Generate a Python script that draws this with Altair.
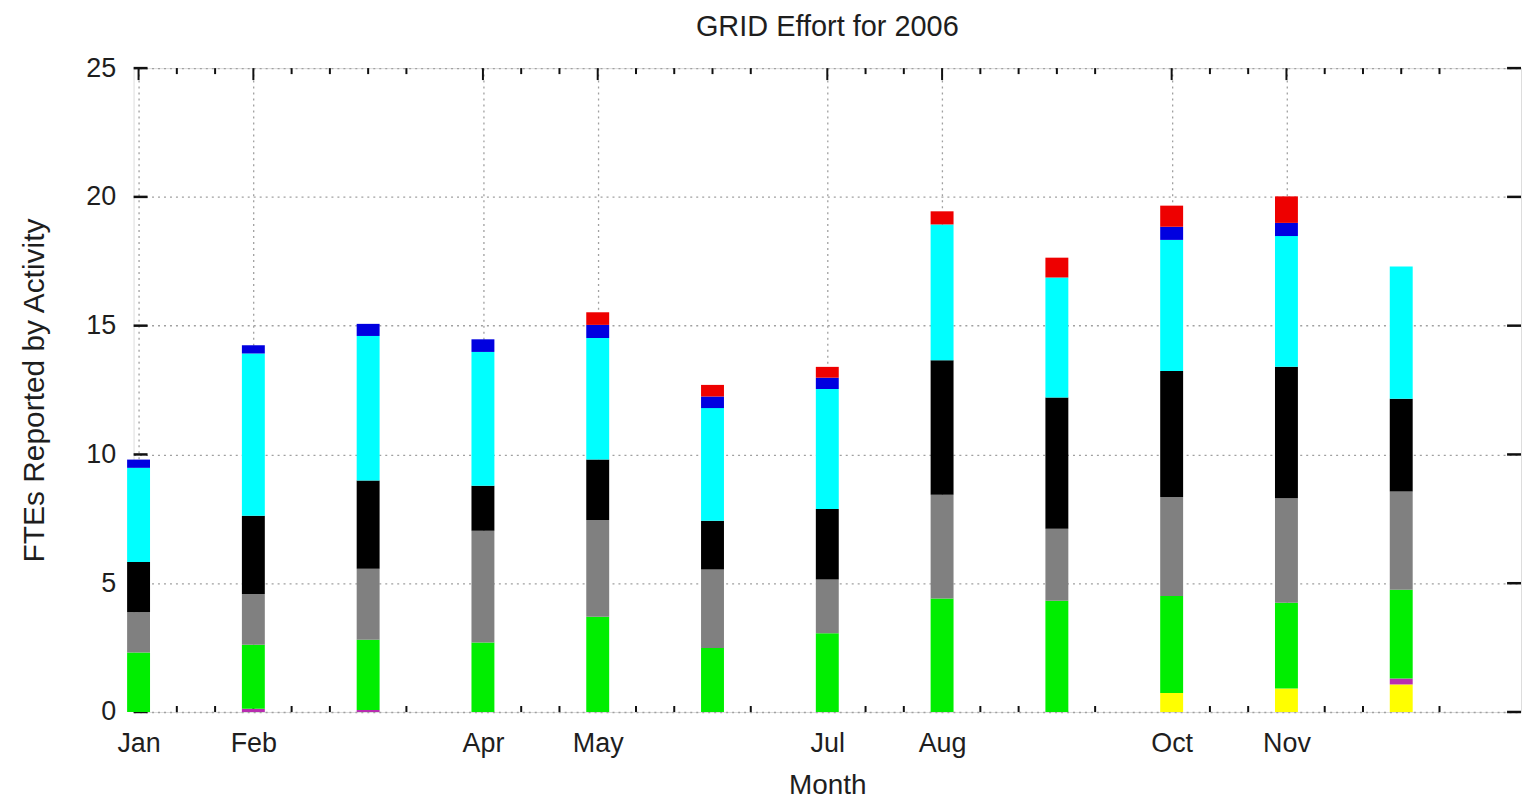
import altair as alt
import pandas as pd

# ---- data ----
months = ["Jan", "Feb", "Mar", "Apr", "May", "Jun", "Jul", "Aug", "Sep", "Oct", "Nov", "Dec"]
month_pos = [0, 1, 2, 3, 4, 5, 6, 7, 8, 9, 10, 11]

series_names = ["s1", "s2", "s3", "s4", "s5", "s6", "s7", "s8"]
series_colors = ["#ffff00", "#b82cb0", "#00ee00", "#808080", "#000000", "#00ffff", "#0000e0", "#ee0000"]

yellow = [0, 0, 0, 0, 0, 0, 0, 0, 0, 0.74, 0.91, 1.07]
magenta = [0, 0.13, 0.08, 0, 0, 0, 0, 0, 0, 0, 0, 0.23]
green = [2.31, 2.48, 2.72, 2.70, 3.70, 2.48, 3.06, 4.41, 4.32, 3.76, 3.33, 3.45]
gray = [1.56, 1.97, 2.76, 4.34, 3.75, 3.05, 2.08, 4.02, 2.79, 3.85, 4.06, 3.81]
black = [1.95, 3.04, 3.43, 1.74, 2.35, 1.90, 2.74, 5.23, 5.10, 4.89, 5.10, 3.60]
cyan = [3.66, 6.30, 5.61, 5.20, 4.72, 4.37, 4.66, 5.27, 4.66, 5.09, 5.08, 5.14]
blue = [0.32, 0.32, 0.47, 0.49, 0.51, 0.45, 0.44, 0, 0, 0.51, 0.51, 0]
red = [0, 0, 0, 0, 0.49, 0.45, 0.42, 0.51, 0.77, 0.82, 1.03, 0]

# x-axis tick positions (in months from Jan 1) and labels
major_ticks = [0, 1, 3, 4, 6, 7, 9, 10]
major_labels = ["Jan", "Feb", "Apr", "May", "Jul", "Aug", "Oct", "Nov"]
minor_ticks = [1/3, 2/3, 4/3, 5/3, 2, 7/3, 10/3, 11/3, 13/3, 14/3, 5, 16/3,
               19/3, 20/3, 22/3, 23/3, 8, 25/3, 28/3, 29/3, 31/3, 32/3, 11, 34/3]
y_ticks = [0, 5, 10, 15, 20, 25]

# ---- build tables ----
all_series = [yellow, magenta, green, gray, black, cyan, blue, red]
rows = []
for k, (name, vals) in enumerate(zip(series_names, all_series)):
    for m, mp, v in zip(months, month_pos, vals):
        rows.append({"month": m, "m": mp, "series": name, "k": k, "value": v})
df = pd.DataFrame(rows)

maj_df = pd.DataFrame({"m": major_ticks})
min_df = pd.DataFrame({"m": minor_ticks})
yt_df = pd.DataFrame({"value": y_ticks})

W, H = 1392, 646
FONT = "Liberation Sans"
TXT = "#1e1e1e"

label_expr = " : ".join(
    [f"datum.value == {p} ? '{l}'" for p, l in zip(major_ticks, major_labels)]
) + " : ''"

x_scale = alt.Scale(domain=[0, 12], nice=False, zero=False)
y_scale = alt.Scale(domain=[0, 25], nice=False)

x_axis = alt.Axis(
    values=major_ticks, labelExpr=label_expr, title="Month",
    ticks=False, domain=False, grid=True,
    gridDash=[2, 4], gridColor="#a0a0a0", gridWidth=1.3,
    labelFontSize=27, titleFontSize=28, labelFont=FONT, titleFont=FONT,
    labelColor=TXT, titleColor=TXT, titleFontWeight="normal",
    labelPadding=19, titlePadding=15, labelFlush=False,
)
y_axis = alt.Axis(
    values=y_ticks, title="FTEs Reported by Activity",
    ticks=False, domain=False, grid=True,
    gridDash=[2, 4], gridColor="#a0a0a0", gridWidth=1.3,
    labelFontSize=27, titleFontSize=30, labelFont=FONT, titleFont=FONT,
    labelColor=TXT, titleColor=TXT, titleFontWeight="normal",
    labelPadding=18, titlePadding=36,
)

x_enc = alt.X("m:Q", scale=x_scale, axis=x_axis)

bars = alt.Chart(df).mark_bar(size=23).encode(
    x=x_enc,
    y=alt.Y("sum(value):Q", scale=y_scale, axis=y_axis, stack="zero"),
    color=alt.Color("series:N", scale=alt.Scale(domain=series_names, range=series_colors), legend=None),
    order=alt.Order("k:Q", sort="ascending"),
)

tick_color = "#111111"
maj_bottom = alt.Chart(maj_df).mark_rule(color=tick_color, strokeWidth=2).encode(
    x=x_enc, y=alt.value(H), y2=alt.value(H - 12))
maj_top = alt.Chart(maj_df).mark_rule(color=tick_color, strokeWidth=2).encode(
    x=x_enc, y=alt.value(0), y2=alt.value(12))
min_bottom = alt.Chart(min_df).mark_rule(color=tick_color, strokeWidth=2).encode(
    x=x_enc, y=alt.value(H), y2=alt.value(H - 6))
min_top = alt.Chart(min_df).mark_rule(color=tick_color, strokeWidth=2).encode(
    x=x_enc, y=alt.value(0), y2=alt.value(6))
y_left = alt.Chart(yt_df).mark_rule(color=tick_color, strokeWidth=2.5).encode(
    y=alt.Y("value:Q", scale=y_scale, axis=y_axis), x=alt.value(0), x2=alt.value(14))
y_right = alt.Chart(yt_df).mark_rule(color=tick_color, strokeWidth=2.5).encode(
    y=alt.Y("value:Q", scale=y_scale, axis=y_axis), x=alt.value(W), x2=alt.value(W - 14))

chart = alt.layer(
    maj_bottom, maj_top, min_bottom, min_top, y_left, y_right, bars
).properties(
    width=W, height=H,
    padding={"left": 11, "top": 4, "right": 0, "bottom": 2},
    title=alt.TitleParams(
        "GRID Effort for 2006", fontSize=29, font=FONT, fontWeight="normal",
        color=TXT, anchor="middle", offset=12,
    ),
).configure_view(
    stroke="#111111", strokeWidth=2.8
).configure(background="white")

chart.save("out.html", embed_options={"renderer": "svg", "actions": False})
